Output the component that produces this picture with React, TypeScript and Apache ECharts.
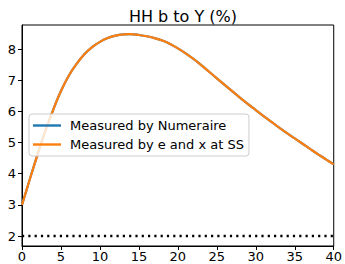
import React, { useEffect, useRef } from "react";
import * as echarts from "echarts";

const xValues = [0,1,2,3,4,5,6,7,8,9,10,11,12,13,14,15,16,17,18,19,20,21,22,23,24,25,26,27,28,29,30,31,32,33,34,35,36,37,38,39,40];
const numeraireValues = [3.0,3.82,4.62,5.38,6.05,6.65,7.14,7.52,7.83,8.06,8.23,8.35,8.43,8.47,8.48,8.45,8.41,8.35,8.27,8.16,8.02,7.86,7.68,7.48,7.27,7.06,6.85,6.64,6.43,6.23,6.04,5.85,5.66,5.48,5.3,5.13,4.96,4.79,4.62,4.46,4.3];
const exValues = [3.0,3.82,4.62,5.38,6.05,6.65,7.14,7.52,7.83,8.06,8.23,8.35,8.43,8.47,8.48,8.45,8.41,8.35,8.27,8.16,8.02,7.86,7.68,7.48,7.27,7.06,6.85,6.64,6.43,6.23,6.04,5.85,5.66,5.48,5.3,5.13,4.96,4.79,4.62,4.46,4.3];
const steadyState = [[0, 2.0], [40, 2.0]];
const yTicks = [2, 3, 4, 5, 6, 7, 8];
const seriesNames = ["Measured by Numeraire", "Measured by e and x at SS"];
const titleText = "HH b to Y (%)";

const FONT = "DejaVu Sans";

export default function App() {
  const ref = useRef<HTMLDivElement>(null);
  useEffect(() => {
    const chart = echarts.init(ref.current!, null, { renderer: "svg" });
    chart.setOption({
      animation: false,
      title: {
        text: titleText,
        left: 178,
        top: 3,
        textAlign: "center",
        textStyle: { fontFamily: FONT, fontSize: 16, fontWeight: "normal", color: "#000" },
      },
      grid: {
        left: 22, right: 11, top: 25, bottom: 18,
        show: true, borderColor: "#000", borderWidth: 1, backgroundColor: "transparent",
      },
      legend: {
        data: seriesNames,
        orient: "vertical",
        left: 29,
        top: 114,
        icon: "rect",
        itemWidth: 28,
        itemHeight: 2.4,
        itemGap: 4,
        padding: [4, 5, 4, 4],
        backgroundColor: "rgba(255,255,255,0.8)",
        borderColor: "#cccccc",
        borderWidth: 1,
        borderRadius: 3,
        textStyle: { fontFamily: FONT, fontSize: 13, color: "#000", padding: [0, 0, 0, 4], lineHeight: 15 },
      },
      xAxis: {
        type: "value",
        min: 0,
        max: 40,
        interval: 5,
        axisLine: { show: true, lineStyle: { color: "#000", width: 1 } },
        axisTick: { show: true, length: 4, lineStyle: { color: "#000" } },
        axisLabel: { fontFamily: FONT, fontSize: 13, color: "#000", margin: 4 },
        splitLine: { show: false },
      },
      yAxis: {
        type: "value",
        min: 1.68,
        max: 8.77,
        axisLine: { show: true, lineStyle: { color: "#000", width: 1 } },
        axisTick: { show: true, length: 4, customValues: yTicks, lineStyle: { color: "#000" } },
        axisLabel: { fontFamily: FONT, fontSize: 13, color: "#000", margin: 6, customValues: yTicks },
        splitLine: { show: false },
      },
      series: [
        {
          name: seriesNames[0],
          type: "line",
          data: xValues.map((x, i) => [x, numeraireValues[i]]),
          symbol: "none",
          smooth: 0.3,
          lineStyle: { color: "#1f77b4", width: 2.2 },
          itemStyle: { color: "#1f77b4" },
          z: 2,
        },
        {
          name: seriesNames[1],
          type: "line",
          data: xValues.map((x, i) => [x, exValues[i]]),
          symbol: "none",
          smooth: 0.3,
          lineStyle: { color: "#ff7f0e", width: 2.2 },
          itemStyle: { color: "#ff7f0e" },
          z: 3,
        },
        {
          name: "SS",
          type: "line",
          data: steadyState,
          symbol: "none",
          lineStyle: { color: "#000", width: 2.4, type: [2.2, 4.1] },
          z: 3,
        },
      ],
    });
    return () => chart.dispose();
  }, []);
  return <div ref={ref} style={{ width: 345, height: 264, position: "absolute", left: 0, top: 0 }} />;
}
